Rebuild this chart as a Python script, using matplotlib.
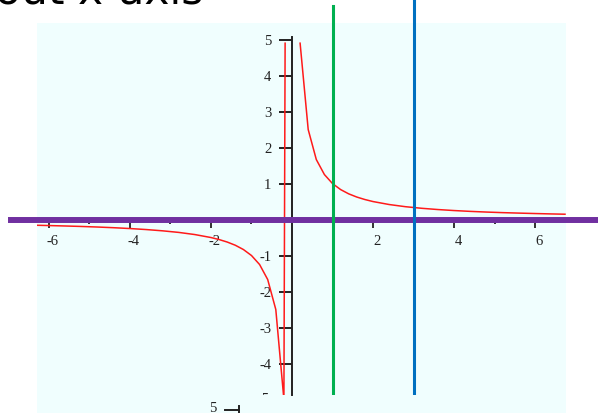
import matplotlib
matplotlib.use("Agg")
import matplotlib.pyplot as plt
import matplotlib.patches as mpatches
import matplotlib.transforms as mtransforms
from matplotlib.lines import Line2D

plt.rcParams["axes.unicode_minus"] = False

# sampled points of y = 1/x as drawn by the plotter (step 0.2 near the asymptote)
x_left = [-6.3, -6.0, -5.6, -5.2, -4.8, -4.4, -4.0, -3.6, -3.2, -2.8, -2.4,
          -2.0, -1.8, -1.6, -1.4, -1.2, -1.0, -0.8, -0.6, -0.4, -0.2, -0.17]
y_left = [-0.159, -0.167, -0.179, -0.192, -0.208, -0.227, -0.25, -0.278,
          -0.313, -0.357, -0.417, -0.5, -0.556, -0.625, -0.714, -0.833,
          -1.0, -1.25, -1.667, -2.5, -5.0, 4.9]
x_right = [0.2, 0.4, 0.6, 0.8, 1.0, 1.2, 1.4, 1.6, 1.8, 2.0, 2.4, 2.8, 3.2,
           3.6, 4.0, 4.4, 4.8, 5.2, 5.6, 6.0, 6.4, 6.74]
y_right = [4.9, 2.5, 1.667, 1.25, 1.0, 0.833, 0.714, 0.625, 0.556, 0.5,
           0.417, 0.357, 0.313, 0.278, 0.25, 0.227, 0.208, 0.192, 0.179,
           0.167, 0.156, 0.148]

vlines_x = [1, 3]
vlines_col = ["#00B050", "#0070C0"]
x_major = [-6, -4, -2, 2, 4, 6]
x_minor = [-5, -3, -1, 1, 3, 5]
y_ticks = [-4, -3, -2, -1, 1, 2, 3, 4, 5]

W, H = 598, 413
fig = plt.figure(figsize=(W / 100, H / 100), dpi=100)
fig.patch.set_facecolor("white")

# light panel behind the graph
fig.add_artist(mpatches.Rectangle((37 / W, 0), (566 - 37) / W, (H - 23) / H,
                                  transform=fig.transFigure,
                                  facecolor="#F0FEFE", edgecolor="none",
                                  zorder=0))

# slide heading, mostly cut off at the top edge
fig.text(-5 / W, 1 - 4 / H, "out x-axis", fontsize=30.5, family="DejaVu Sans",
         color="black", ha="left", va="baseline")

ax = fig.add_axes([37 / W, (H - 395) / H, (566 - 37) / W, 395 / H])
ax.set_facecolor("none")
ax.set_xlim(-6.296, 6.765)
ax.set_ylim(-4.875, 6.10)

ax.plot(x_left, y_left, color="#FF1A1A", lw=1.1, zorder=2.6)
ax.plot(x_right, y_right, color="#FF1A1A", lw=1.1, zorder=2.6)

ax.axhline(0, xmin=-26 / 529, xmax=(W - 37) / 529, color="#7030A0", lw=4.3,
           clip_on=False, zorder=3)
ax.axvline(vlines_x[0], ymax=(395 - 6) / 395, color=vlines_col[0], lw=2.2,
           zorder=4)
ax.axvline(vlines_x[1], ymax=(395 - 1) / 395, color=vlines_col[1], lw=2.2,
           zorder=4)

for side in ["top", "right"]:
    ax.spines[side].set_visible(False)
ax.spines["left"].set_position(("data", 0))
ax.spines["bottom"].set_position(("data", 0))
ax.spines["left"].set_bounds(-4.875, 5.08)
ax.spines["left"].set_linewidth(1.4)
ax.spines["left"].set_color("#222222")
ax.spines["bottom"].set_linewidth(1.2)

ax.set_xticks(x_major)
ax.set_xticks(x_minor, minor=True)
ax.set_xticklabels([str(v) for v in x_major])
ax.set_yticks(y_ticks)
ax.set_yticklabels([str(v) for v in y_ticks])

ax.tick_params(axis="x", which="major", direction="out", length=6, width=1.3,
               pad=5, color="#222222")
ax.tick_params(axis="x", which="minor", direction="out", length=3.2,
               width=1.3, color="#222222")
ax.tick_params(axis="y", direction="out", length=9.5, width=1.4, pad=5.5,
               color="#222222")
for lbl in ax.get_xticklabels() + ax.get_yticklabels():
    lbl.set_family("Liberation Serif")
    lbl.set_fontsize(10.5)
    lbl.set_color("#222222")

shift = mtransforms.ScaledTranslation(4 / 100, 0, fig.dpi_scale_trans)
for lbl in ax.get_xticklabels():
    lbl.set_transform(lbl.get_transform() + shift)

# the -5 label sits just past the bottom edge and is cut off
ax.annotate("-5", xy=(0, -5), xytext=(-16, 0), textcoords="offset points",
            ha="right", va="center", family="Liberation Serif",
            fontsize=10.5, color="#222222", annotation_clip=False,
            clip_on=True)

# top of the next graph's y-axis peeking in at the bottom
fig.text(213 / W, 1 - 408 / H, "5", family="Liberation Serif", fontsize=10.5,
         color="#222222", ha="center", va="center")
fig.add_artist(Line2D([225 / W, 239 / W], [1 - 409.5 / H, 1 - 409.5 / H],
                      transform=fig.transFigure, color="#222222", lw=1.4))
fig.add_artist(Line2D([239 / W, 239 / W], [1 - 405.5 / H, 0],
                      transform=fig.transFigure, color="#222222", lw=1.4))

fig.savefig("out.png", dpi=100)
